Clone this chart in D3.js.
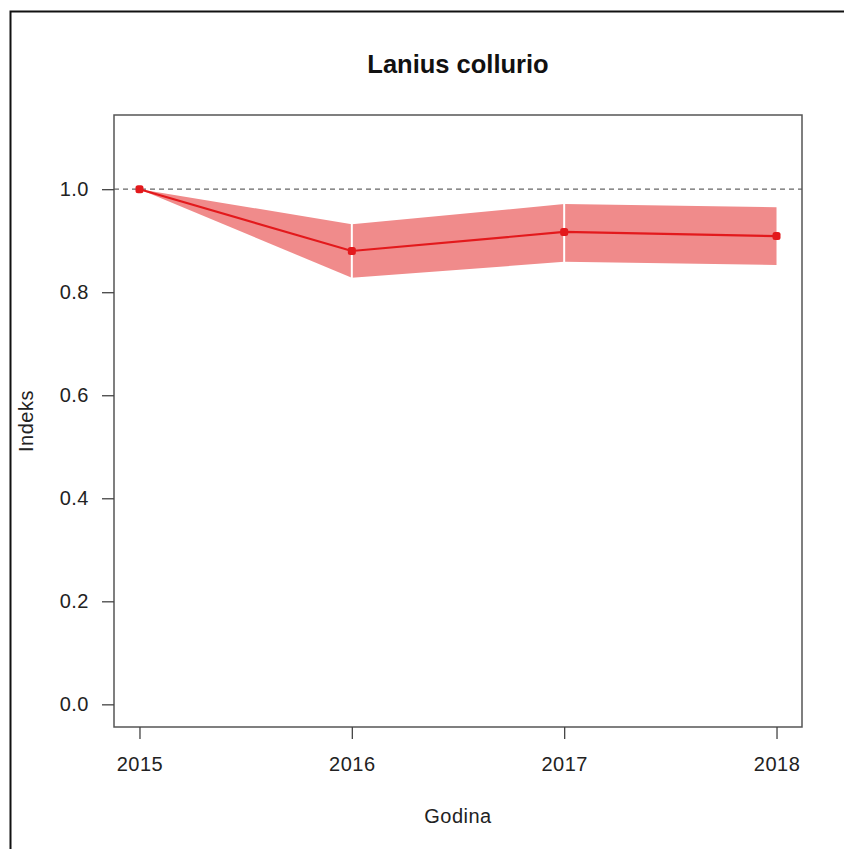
<!DOCTYPE html>
<html>
<head>
<meta charset="utf-8">
<script src="https://cdn.jsdelivr.net/npm/d3@7"></script>
<style>
  html, body { margin: 0; padding: 0; background: #fff; }
  svg { display: block; }
</style>
</head>
<body>
<script>
// Population index for Lanius collurio, with confidence band
const years = [2015, 2016, 2017, 2018];
const indexValues = [1.0, 0.880, 0.917, 0.909];
const lowerCI = [1.0, 0.828, 0.859, 0.853];
const upperCI = [1.0, 0.932, 0.971, 0.965];
const yTicks = [0.0, 0.2, 0.4, 0.6, 0.8, 1.0];
const yTickLabels = ["0.0", "0.2", "0.4", "0.6", "0.8", "1.0"];
const title = "Lanius collurio";
const xTitle = "Godina";
const yTitle = "Indeks";

const W = 844, H = 849;
const plot = { left: 114, top: 115, right: 802, bottom: 727 };
const font = "'Liberation Sans', Arial, sans-serif";
const labelSize = "20px";

const svg = d3.select("body").append("svg").attr("width", W).attr("height", H);
svg.append("rect").attr("width", W).attr("height", H).attr("fill", "#fff");

// outer frame
svg.append("rect")
  .attr("x", 10.5).attr("y", 11.5).attr("width", W + 10).attr("height", H + 10)
  .attr("fill", "none").attr("stroke", "#111").attr("stroke-width", 2);

const x = d3.scaleLinear().domain([2014.88, 2018.12]).range([plot.left, plot.right]);
const y = d3.scaleLinear().domain([-0.044, 1.144]).range([plot.bottom, plot.top]);

const rows = years.map((yr, i) => ({ yr, v: indexValues[i], lo: lowerCI[i], hi: upperCI[i] }));

// confidence band, one piece per interval between years
const area = d3.area().x(d => x(d.yr)).y0(d => y(d.lo)).y1(d => y(d.hi));
for (let i = 0; i < rows.length - 1; i++) {
  svg.append("path")
    .datum([rows[i], rows[i + 1]])
    .attr("d", area)
    .attr("fill", "#f08b8b");
}
// white seams between band pieces
rows.slice(1, -1).forEach(d => {
  svg.append("line")
    .attr("x1", x(d.yr)).attr("x2", x(d.yr))
    .attr("y1", y(d.hi) - 2).attr("y2", y(d.lo) + 2)
    .attr("stroke", "#fff").attr("stroke-width", 2);
});

// reference line at 1.0
svg.append("line")
  .attr("x1", plot.left).attr("x2", plot.right)
  .attr("y1", y(1)).attr("y2", y(1))
  .attr("stroke", "#666").attr("stroke-width", 1.3)
  .attr("stroke-dasharray", "5,4");

// index line and points
svg.append("path")
  .datum(rows)
  .attr("d", d3.line().x(d => x(d.yr)).y(d => y(d.v)))
  .attr("fill", "none").attr("stroke", "#e3191c").attr("stroke-width", 2.2);
svg.selectAll("rect.pt").data(rows).enter().append("rect")
  .attr("class", "pt")
  .attr("x", d => x(d.yr) - 4).attr("y", d => y(d.v) - 4)
  .attr("width", 8).attr("height", 8).attr("rx", 2.5)
  .attr("fill", "#e3191c");

// plot box
svg.append("rect")
  .attr("x", plot.left).attr("y", plot.top)
  .attr("width", plot.right - plot.left).attr("height", plot.bottom - plot.top)
  .attr("fill", "none").attr("stroke", "#555").attr("stroke-width", 1.5);

// axes
const xAxis = d3.axisBottom(x).tickValues(years).tickFormat(d3.format("d")).tickSize(12).tickPadding(18);
const gx = svg.append("g").attr("transform", `translate(0,${plot.bottom})`).call(xAxis);
gx.select(".domain").remove();

const yAxis = d3.axisLeft(y).tickValues(yTicks).tickFormat((d, i) => yTickLabels[i]).tickSize(12).tickPadding(13);
const gy = svg.append("g").attr("transform", `translate(${plot.left},0)`).call(yAxis);
gy.select(".domain").remove();

[gx, gy].forEach(g => {
  g.selectAll(".tick line").attr("stroke", "#444").attr("stroke-width", 1.3);
  g.selectAll(".tick text").attr("fill", "#222").style("font-family", font)
    .style("font-size", labelSize).style("letter-spacing", "0.5px");
});

// titles
svg.append("text").attr("x", (plot.left + plot.right) / 2).attr("y", 73)
  .attr("text-anchor", "middle").style("font-family", font).style("font-weight", "bold")
  .style("font-size", "25.5px").attr("fill", "#111").text(title);
svg.append("text").attr("x", (plot.left + plot.right) / 2).attr("y", 823)
  .attr("text-anchor", "middle").style("font-family", font).style("letter-spacing", "0.5px")
  .style("font-size", labelSize).attr("fill", "#222").text(xTitle);
svg.append("text").attr("transform", `translate(33,${(plot.top + plot.bottom) / 2}) rotate(-90)`)
  .attr("text-anchor", "middle").style("font-family", font).style("letter-spacing", "0.5px")
  .style("font-size", labelSize).attr("fill", "#222").text(yTitle);
</script>
</body>
</html>
